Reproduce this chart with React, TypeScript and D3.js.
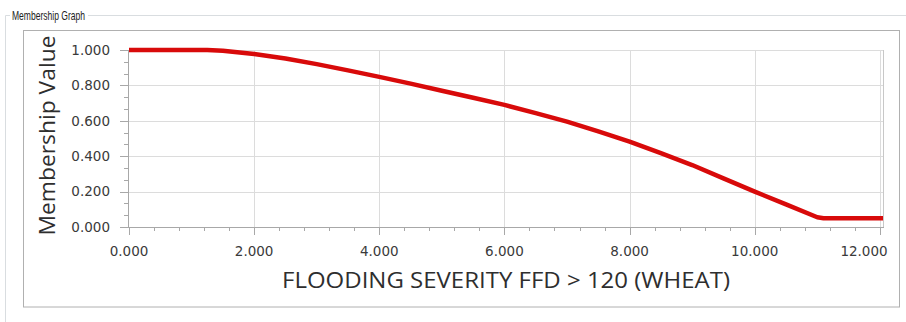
import React from "react";
import * as d3 from "d3";

const xValues = [0, 0.5, 1.0, 1.25, 1.5, 2.0, 2.5, 3.0, 3.5, 4.0, 4.5, 5.0, 5.5, 6.0, 6.5, 7.0, 7.5, 8.0, 8.5, 9.0, 9.5, 10.0, 10.5, 11.0, 11.1, 12.05];
const membership = [1.0, 1.0, 1.0, 1.0, 0.996, 0.977, 0.952, 0.92, 0.885, 0.848, 0.81, 0.77, 0.73, 0.69, 0.643, 0.595, 0.54, 0.482, 0.417, 0.35, 0.275, 0.2, 0.128, 0.055, 0.05, 0.05];
const xTicks = [0, 2, 4, 6, 8, 10, 12];
const yTicks = [0, 0.2, 0.4, 0.6, 0.8, 1.0];
const groupTitle = "Membership Graph";
const xTitle = "FLOODING SEVERITY FFD > 120 (WHEAT)";
const yTitle = "Membership Value";

export default function App() {
  const W = 906, H = 322;
  const left = 129, right = 883, top = 50, bottom = 227;
  const x = d3.scaleLinear().domain([0, 12.05]).range([left, right]);
  const y = d3.scaleLinear().domain([0, 1]).range([bottom, top]);
  const data = xValues.map((v, i) => [v, membership[i]] as [number, number]);
  const line = d3.line<[number, number]>().x(d => x(d[0])).y(d => y(d[1]));

  const xMinor: number[] = [];
  for (let i = 0; i <= 30; i++) { const v = i * 0.4; if (i % 5 !== 0 && v <= 12.05) xMinor.push(v); }
  const yMinor: number[] = [];
  for (let i = 0; i <= 15; i++) { if (i % 3 !== 0) yMinor.push(i / 15); }

  const fmt = d3.format(".3f");
  const tickFont = "'DejaVu Sans', Verdana, sans-serif";
  const titleFont = "'Open Sans', 'Noto Sans', sans-serif";

  return (
    <svg width={W} height={H} style={{ position: "absolute", left: 0, top: 0, background: "#fff" }}>
      {/* group box */}
      <line x1={5.5} y1={15.5} x2={10} y2={15.5} stroke="#d9dde0" />
      <line x1={88} y1={15.5} x2={W} y2={15.5} stroke="#d9dde0" />
      <line x1={5.5} y1={15.5} x2={5.5} y2={H} stroke="#d9dde0" />
      <text x={12} y={19.5} fontFamily="'Liberation Sans', Arial, sans-serif" fontSize={13} fill="#222" textLength={73} lengthAdjust="spacingAndGlyphs">{groupTitle}</text>
      {/* inner panel */}
      <rect x={23.5} y={30.5} width={876} height={276.5} fill="#fff" stroke="#b0b0b0" />

      {/* gridlines */}
      {xTicks.filter(t => t > 0).map(t => (
        <line key={"gx" + t} x1={Math.round(x(t)) + 0.5} x2={Math.round(x(t)) + 0.5} y1={top} y2={bottom} stroke="#dcdcdc" />
      ))}
      {yTicks.filter(t => t > 0).map(t => (
        <line key={"gy" + t} x1={left} x2={right} y1={Math.round(y(t)) + 0.5} y2={Math.round(y(t)) + 0.5} stroke="#dcdcdc" />
      ))}
      <line x1={right + 0.5} x2={right + 0.5} y1={top} y2={bottom} stroke="#c8c8c8" />

      {/* axes */}
      <line x1={left - 0.5} x2={left - 0.5} y1={top} y2={bottom + 1} stroke="#a8a8a8" />
      <line x1={left - 1} x2={right + 1} y1={bottom + 0.5} y2={bottom + 0.5} stroke="#a8a8a8" />
      {yTicks.map(t => (
        <line key={"ty" + t} x1={left - 9} x2={left} y1={Math.round(y(t)) + 0.5} y2={Math.round(y(t)) + 0.5} stroke="#a8a8a8" />
      ))}
      {yMinor.map(t => (
        <line key={"my" + t} x1={left - 5} x2={left} y1={Math.round(y(t)) + 0.5} y2={Math.round(y(t)) + 0.5} stroke="#a8a8a8" />
      ))}
      {xTicks.map(t => (
        <line key={"tx" + t} x1={Math.round(x(t)) + 0.5} x2={Math.round(x(t)) + 0.5} y1={bottom} y2={bottom + 8} stroke="#a8a8a8" />
      ))}
      {xMinor.map(t => (
        <line key={"mx" + t} x1={Math.round(x(t)) + 0.5} x2={Math.round(x(t)) + 0.5} y1={bottom} y2={bottom + 4} stroke="#a8a8a8" />
      ))}

      {/* tick labels */}
      {yTicks.map(t => (
        <text key={"ly" + t} x={110} y={y(t)} dy="0.36em" textAnchor="end" fontFamily={tickFont} fontSize={13.5} fill="#3a3a3a">{fmt(t)}</text>
      ))}
      {xTicks.map(t => (
        <text key={"lx" + t} x={Math.min(x(t), 864)} y={256} textAnchor="middle" fontFamily={tickFont} fontSize={13.5} fill="#3a3a3a">{fmt(t)}</text>
      ))}

      {/* axis titles */}
      <text x={506} y={288} textAnchor="middle" fontFamily={titleFont} fontSize={22.5} fill="#2e2e2e" textLength={448} lengthAdjust="spacingAndGlyphs">{xTitle}</text>
      <text transform={`translate(55, ${(top + bottom) / 2 - 3}) rotate(-90)`} textAnchor="middle" fontFamily={titleFont} fontSize={22} fill="#2e2e2e" textLength={200} lengthAdjust="spacingAndGlyphs">{yTitle}</text>

      {/* curve */}
      <path d={line(data) || ""} fill="none" stroke="#d80a0a" strokeWidth={4.5} strokeLinejoin="round" />
    </svg>
  );
}
